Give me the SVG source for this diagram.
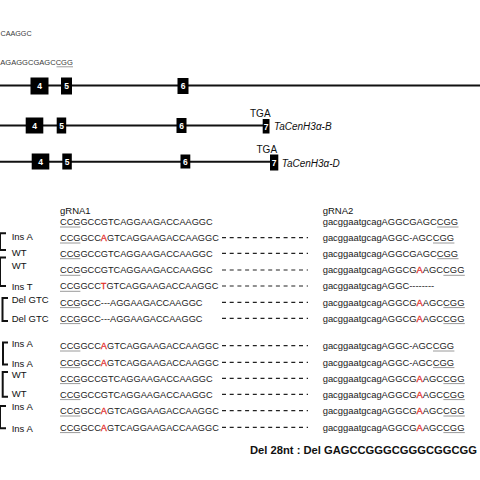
<svg xmlns="http://www.w3.org/2000/svg" width="480" height="480" viewBox="0 0 480 480">
<style>
.top{font-family:"Liberation Sans",Arial,sans-serif;font-size:7.2px;fill:#3a3a3a}
.gl{stroke:#111;stroke-width:2;fill:none}
.ex{fill:#000}
.en{font-family:"Liberation Sans",Arial,sans-serif;font-size:8.5px;font-weight:bold;fill:#fff;text-anchor:middle}
.lab{font-family:"Liberation Sans",Arial,sans-serif;font-size:10px;fill:#111}
.gn{font-family:"Liberation Sans",Arial,sans-serif;font-size:10px;font-style:italic;fill:#111}
.sl{font-family:"Liberation Sans",Arial,sans-serif;font-size:9.2px;fill:#1a1a1a}
.sr{font-family:"Liberation Sans",Arial,sans-serif;font-size:9.4px;fill:#1a1a1a}
.rl{font-family:"Liberation Sans",Arial,sans-serif;font-size:9.5px;fill:#111}
.m{fill:#e3302c;stroke:#e3302c;stroke-width:0.3}
.ul{stroke:#9a9a9a;stroke-width:1}
.dl{stroke:#222;stroke-width:1.2;stroke-dasharray:4 3.7}
.br{stroke:#111;stroke-width:2;fill:none}
.big{font-family:"Liberation Sans",Arial,sans-serif;font-size:11.2px;font-weight:bold;fill:#111}
</style>

<g id="top-seq">
<text class="top" x="0.5" y="35.5">CAAGGC</text>
<text class="top" x="0.3" y="64.5" style="font-size:7.55px">AGAGGCGAGCCGG</text>
<line class="ul" x1="56.5" y1="66.8" x2="73" y2="66.8"/>
</g>

<g id="gene-A">
<line class="gl" x1="0" y1="85.5" x2="480" y2="85.5"/>
<rect class="ex" x="30.5" y="77.5" width="18" height="17"/><text class="en" x="39.5" y="89">4</text>
<rect class="ex" x="61" y="77.5" width="11" height="17"/><text class="en" x="66.5" y="89">5</text>
<rect class="ex" x="177.5" y="78" width="11" height="16"/><text class="en" x="183" y="89">6</text>
</g>

<g id="gene-B">
<line class="gl" x1="0" y1="125.5" x2="263" y2="125.5"/>
<rect class="ex" x="25.7" y="117.5" width="17.6" height="16"/><text class="en" x="34.5" y="128.5">4</text>
<rect class="ex" x="56.7" y="117.5" width="9.5" height="16"/><text class="en" x="61.5" y="128.5">5</text>
<rect class="ex" x="176.5" y="118" width="10" height="15"/><text class="en" x="181.5" y="128.5">6</text>
<rect class="ex" x="262.7" y="119" width="6.8" height="14.5"/><text class="en" x="266.1" y="130">7</text>
<text class="lab" x="250" y="117">TGA</text>
<text class="gn" x="274" y="130">TaCenH3α-B</text>
</g>

<g id="gene-D">
<line class="gl" x1="0" y1="161.7" x2="270" y2="161.7"/>
<rect class="ex" x="31.7" y="153.5" width="17.6" height="16"/><text class="en" x="40.5" y="165">4</text>
<rect class="ex" x="62.3" y="153.5" width="9.5" height="16"/><text class="en" x="67" y="165">5</text>
<rect class="ex" x="180.5" y="154.5" width="9.8" height="14"/><text class="en" x="185.4" y="165">6</text>
<rect class="ex" x="270" y="154.5" width="8.3" height="16"/><text class="en" x="274.2" y="166">7</text>
<text class="lab" x="256.5" y="152.7">TGA</text>
<text class="gn" x="281.7" y="166.7">TaCenH3α-D</text>
</g>

<g id="headers">
<text class="rl" x="60" y="214">gRNA1</text>
<text class="rl" x="322.7" y="214">gRNA2</text>
</g>

<g id="brackets">
<path class="br" d="M0,233.3 H6 M0,250 H6 M0,233.3 V250"/>
<path class="br" d="M0,257.5 H6 M0,286 H6 M0,257.5 V286"/>
<path class="br" d="M8,298 H2.5 V321 H8"/>
<path class="br" d="M8,342.5 H3 V364.5 H8"/>
<path class="br" d="M8,372 H2.7 V396.7 H8"/>
<path class="br" d="M0,406 H6 M0,428.3 H6 M0,406 V428.3"/>
</g>

<g id="labels">
<text class="rl" x="11.7" y="240">Ins A</text>
<text class="rl" x="11.7" y="255.7">WT</text>
<text class="rl" x="11.7" y="269.4">WT</text>
<text class="rl" x="11.7" y="290">Ins T</text>
<text class="rl" x="11.7" y="303.4">Del GTC</text>
<text class="rl" x="11.7" y="321.7">Del GTC</text>
<text class="rl" x="11.7" y="347.4">Ins A</text>
<text class="rl" x="11.7" y="366.7">Ins A</text>
<text class="rl" x="11.7" y="377.7">WT</text>
<text class="rl" x="11.7" y="396.7">WT</text>
<text class="rl" x="11.7" y="410">Ins A</text>
<text class="rl" x="11.7" y="431.7">Ins A</text>
</g>

<g id="gRNA1-seqs">
<text class="sl" x="60" y="225">CCGGCCGTCAGGAAGACCAAGGC</text>
<text class="sl" x="60" y="241">CCGGCC<tspan class="m">A</tspan>GTCAGGAAGACCAAGGC</text>
<text class="sl" x="60" y="256.7">CCGGCCGTCAGGAAGACCAAGGC</text>
<text class="sl" x="60" y="273.3">CCGGCCGTCAGGAAGACCAAGGC</text>
<text class="sl" x="60" y="289.3">CCGGCC<tspan class="m">T</tspan>GTCAGGAAGACCAAGGC</text>
<text class="sl" x="60" y="305.6">CCGGCC---AGGAAGACCAAGGC</text>
<text class="sl" x="60" y="321.6">CCGGCC---AGGAAGACCAAGGC</text>
<text class="sl" x="60" y="349">CCGGCC<tspan class="m">A</tspan>GTCAGGAAGACCAAGGC</text>
<text class="sl" x="60" y="365.6">CCGGCC<tspan class="m">A</tspan>GTCAGGAAGACCAAGGC</text>
<text class="sl" x="60" y="381.6">CCGGCCGTCAGGAAGACCAAGGC</text>
<text class="sl" x="60" y="397.6">CCGGCCGTCAGGAAGACCAAGGC</text>
<text class="sl" x="60" y="414">CCGGCC<tspan class="m">A</tspan>GTCAGGAAGACCAAGGC</text>
<text class="sl" x="60" y="430.6">CCGGCC<tspan class="m">A</tspan>GTCAGGAAGACCAAGGC</text>
<path class="ul" d="M60,227 H80.4 M60,243 H80.4 M60,258.7 H80.4 M60,275.3 H80.4 M60,291.3 H80.4 M60,307.6 H80.4 M60,323.6 H80.4 M60,351 H80.4 M60,367.6 H80.4 M60,383.6 H80.4 M60,399.6 H80.4 M60,416 H80.4 M60,432.6 H80.4"/>
</g>

<g id="gaps">
<path class="dl" d="M222,237.7 H308 M222,253.4 H308 M222,270 H308 M222,286 H308 M222,302.3 H308 M222,318.3 H308 M222,345.7 H308 M222,362.3 H308 M222,378.3 H308 M222,394.3 H308 M222,410.7 H308 M222,427.3 H308"/>
</g>

<g id="gRNA2-seqs">
<text class="sr" x="322.7" y="225">gacggaatgcagAGGCGAGCCGG</text>
<text class="sr" x="322.7" y="241">gacggaatgcagAGGC-AGCCGG</text>
<text class="sr" x="322.7" y="256.7">gacggaatgcagAGGCGAGCCGG</text>
<text class="sr" x="322.7" y="273.3">gacggaatgcagAGGCG<tspan class="m">A</tspan>AGCCGG</text>
<text class="sr" x="322.7" y="289.3">gacggaatgcagAGGC--------</text>
<text class="sr" x="322.7" y="305.6">gacggaatgcagAGGCG<tspan class="m">A</tspan>AGCCGG</text>
<text class="sr" x="322.7" y="321.6">gacggaatgcagAGGCG<tspan class="m">A</tspan>AGCCGG</text>
<text class="sr" x="322.7" y="349">gacggaatgcagAGGC-AGCCGG</text>
<text class="sr" x="322.7" y="365.6">gacggaatgcagAGGC-AGCCGG</text>
<text class="sr" x="322.7" y="381.6">gacggaatgcagAGGCG<tspan class="m">A</tspan>AGCCGG</text>
<text class="sr" x="322.7" y="397.6">gacggaatgcagAGGCG<tspan class="m">A</tspan>AGCCGG</text>
<text class="sr" x="322.7" y="414">gacggaatgcagAGGCG<tspan class="m">A</tspan>AGCCGG</text>
<text class="sr" x="322.7" y="430.6">gacggaatgcagAGGCG<tspan class="m">A</tspan>AGCCGG</text>
<path class="ul" d="M437.1,227 H458.5 M433,243 H454.4 M437.1,258.7 H458.5 M443.4,275.3 H464.8 M443.4,307.6 H464.8 M443.4,323.6 H464.8 M433,351 H454.4 M433,367.6 H454.4 M443.4,383.6 H464.8 M443.4,399.6 H464.8 M443.4,416 H464.8 M443.4,432.6 H464.8"/>
</g>

<g id="note">
<text class="big" x="250" y="454">Del 28nt : Del GAGCCGGGCGGGCGGCGG</text>
</g>
</svg>
